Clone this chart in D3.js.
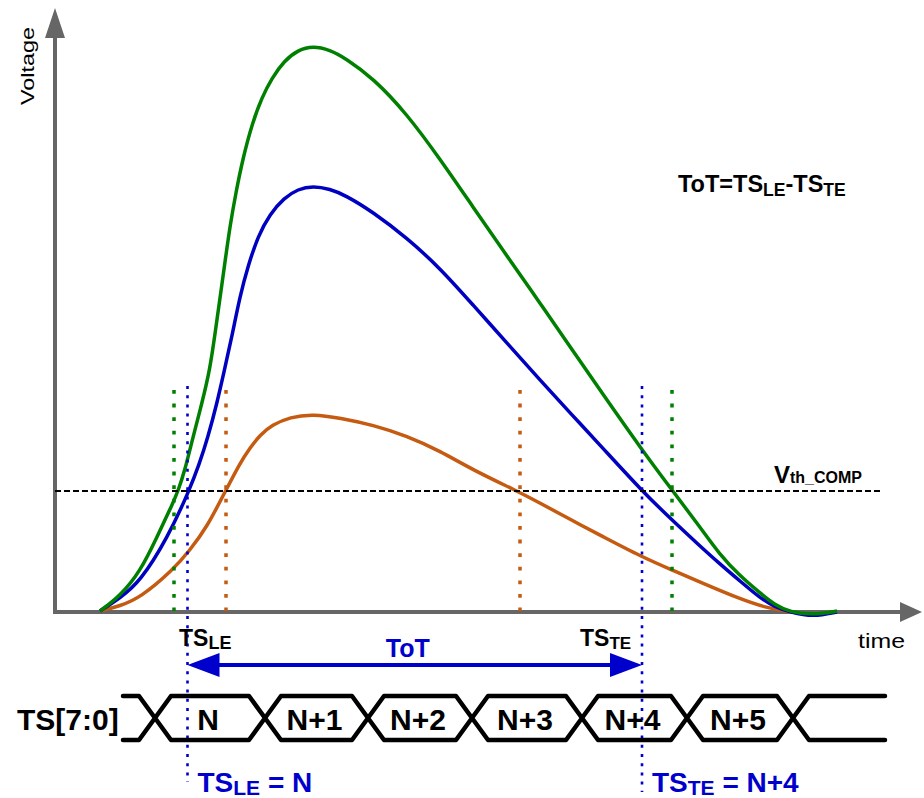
<!DOCTYPE html>
<html><head><meta charset="utf-8">
<script src="https://cdn.jsdelivr.net/npm/d3@7"></script>
<style>
body{margin:0;background:#fff}
svg{display:block}
text{font-family:"Liberation Sans",Arial,sans-serif}
</style>
</head><body>
<svg id="chart" width="924" height="798"></svg>
<script>
// ---- data (time in arbitrary units, voltage in arbitrary units) ----
const greenCurve = [[9,0],[13,3],[17,7.8],[20.4,14.8],[23.6,21.6],[24.6,24],[26,28.2],[27.6,34.8],[29.4,41.6],[31,48.4],[32,55.4],[33,62.6],[34,69.8],[35,77],[36.2,83.8],[37.6,90.6],[39.4,97.4],[41.4,102.8],[43.4,106.6],[45.8,110],[48.6,112.2],[51.6,113],[55,112.2],[58,110.6],[63.6,106.6],[70.4,99.4],[77,90.4],[83.6,80.8],[90.4,71],[97,61.6],[103.6,52],[109,44.2],[117.4,32.2],[123.4,24.2],[129,16.8],[133,11.2],[137,7],[141,3.6],[144,1.2],[147,-0.2],[151.6,-0.8],[156.4,0]];
const blueCurve = [[9,0],[13,2.6],[17,5.8],[22.6,14.8],[26.8,24],[28.8,29.2],[30.6,34.8],[32.4,41.6],[33.8,47.8],[35.4,55],[37,63],[38.6,69],[40.6,75],[43,79.4],[45.8,82.6],[48.6,84.4],[51.6,85],[55,84.4],[58,83.2],[63.6,79.8],[70.4,74.6],[77,68.6],[83.6,61.2],[90.4,53.6],[97,46.2],[103.6,39],[109,33.2],[117.4,24],[123.4,18.2],[129,13],[133,9.4],[137,6],[141,2.6],[144,0.8],[147,-0.2],[151.6,-1.2],[156.4,-0.2]];
const orangeCurve = [[9,0],[13,1],[17,2.6],[23.6,8.2],[27,12.2],[30.4,16.8],[34,23.8],[37,29.6],[39,32.6],[41,35.2],[43.4,37.2],[47,38.8],[51.6,39.4],[57,38.6],[63.6,37.2],[70.4,35],[77,32],[83.6,28.2],[92.4,24],[97,21.6],[103.6,18],[109,15.2],[117.4,10.8],[123.4,8.2],[129,5.8],[137,2.4],[142.4,0.6],[147,-0.2]];
const vth = 24;
const greenCross = [23.8, 123.4];
const blueCross = [26.5, 117.4];
const orangeCross = [34.2, 93];
const markerTop = 44.2;
const blueMarkerTop = 45;
const busEdges = [20, 42, 62.6, 83.4, 105.4, 126.4, 147.6];
const busStart = 13.6, busEnd = 166;
const busLabels = ["N", "N+1", "N+2", "N+3", "N+4", "N+5"];

// ---- colours ----
const cGreen = "#008000", cBlue = "#0000c0", cOrange = "#c55a11", cText = "#0000cc", cAxis = "#666666";

const svg = d3.select("#chart");
const x = d3.scaleLinear().domain([0, 173]).range([55, 920]);
const y = d3.scaleLinear().domain([0, 113]).range([611, 46]);

// ---- axes ----
const ax = svg.append("g");
ax.append("line").attr("x1", x(0)).attr("x2", x(0)).attr("y1", y(0) + 1).attr("y2", 36)
  .attr("stroke", cAxis).attr("stroke-width", 4);
ax.append("path").attr("d", `M${x(0)-10},38 L${x(0)},8 L${x(0)+10},38 Z`).attr("fill", cAxis);
ax.append("line").attr("x1", x(0) - 2).attr("x2", 902).attr("y1", y(0) + 1).attr("y2", y(0) + 1)
  .attr("stroke", cAxis).attr("stroke-width", 4);
ax.append("path").attr("d", `M900,${y(0)-9} L922,${y(0)+1} L900,${y(0)+11} Z`).attr("fill", cAxis);

svg.append("text").attr("transform", `translate(34,66) rotate(-90)`).attr("text-anchor", "middle")
  .attr("font-size", 19).attr("textLength", 78).attr("lengthAdjust", "spacingAndGlyphs").text("Voltage");
svg.append("text").attr("x", 858).attr("y", 648).attr("font-size", 21)
  .attr("textLength", 47).attr("lengthAdjust", "spacingAndGlyphs").text("time");

// ---- curves ----
const line = d3.line().x(d => x(d[0])).y(d => y(d[1])).curve(d3.curveBasis);
[[orangeCurve, cOrange], [blueCurve, cBlue], [greenCurve, cGreen]].forEach(([d, c]) => {
  svg.append("path").attr("d", line(d)).attr("fill", "none").attr("stroke", c).attr("stroke-width", 3.5);
});

// ---- threshold ----
svg.append("line").attr("x1", x(0)).attr("x2", 880).attr("y1", y(vth)).attr("y2", y(vth))
  .attr("stroke", "#000").attr("stroke-width", 2).attr("stroke-dasharray", "6,3");
svg.append("text").attr("x", 774).attr("y", 483).attr("font-weight", "bold")
  .call(t => { t.append("tspan").attr("font-size", 24).text("V");
               t.append("tspan").attr("font-size", 16).text("th_COMP"); });

// ---- crossing markers ----
[[greenCross, cGreen], [orangeCross, cOrange]].forEach(([arr, c]) => {
  arr.forEach(t => svg.append("line").attr("x1", x(t)).attr("x2", x(t)).attr("y1", y(markerTop)).attr("y2", y(0))
    .attr("stroke", c).attr("stroke-width", 3.5).attr("stroke-dasharray", "3.8,9.8"));
});
blueCross.forEach((t, i) => svg.append("line").attr("x1", x(t)).attr("x2", x(t)).attr("y1", y(blueMarkerTop)).attr("y2", i ? 792 : 782)
  .attr("stroke", cText).attr("stroke-width", 2.6).attr("stroke-dasharray", "3,6.2"));

// ---- TS labels near axis ----
function subLabel(px, py, main, sub, size, subSize, fill, rest) {
  const t = svg.append("text").attr("x", px).attr("y", py).attr("font-weight", "bold").attr("fill", fill);
  t.append("tspan").attr("font-size", size).text(main);
  t.append("tspan").attr("font-size", subSize).attr("dy", 3).text(sub);
  if (rest) t.append("tspan").attr("font-size", size).attr("dy", -3).text(rest);
  return t;
}
subLabel(x(blueCross[0]) - 8.5, 646, "TS", "LE", 23, 18, "#000");
subLabel(x(blueCross[1]) - 62, 646, "TS", "TE", 23, 17, "#000");

// formula
const f = svg.append("text").attr("x", 678).attr("y", 192).attr("font-weight", "bold");
f.append("tspan").attr("font-size", 23.5).text("ToT=TS");
f.append("tspan").attr("font-size", 17.5).attr("dy", 4).text("LE");
f.append("tspan").attr("font-size", 23.5).attr("dy", -4).text("-TS");
f.append("tspan").attr("font-size", 17.5).attr("dy", 4).text("TE");

// ---- ToT arrow ----
const ay = 665, xa = x(blueCross[0]), xb = x(blueCross[1]);
svg.append("line").attr("x1", xa + 20).attr("x2", xb - 20).attr("y1", ay).attr("y2", ay)
  .attr("stroke", cText).attr("stroke-width", 4);
svg.append("path").attr("d", `M${xa},${ay} L${xa+32},${ay-12} L${xa+32},${ay+12} Z`).attr("fill", cText);
svg.append("path").attr("d", `M${xb},${ay} L${xb-32},${ay-12} L${xb-32},${ay+12} Z`).attr("fill", cText);
svg.append("text").attr("x", (xa + xb) / 2 - 7).attr("y", 657).attr("text-anchor", "middle")
  .attr("font-weight", "bold").attr("font-size", 25).attr("fill", cText).text("ToT");

// ---- bus ----
const busTop = 696, busBot = 740, busMid = (busTop + busBot) / 2, hw = 16;
const bus = svg.append("g").attr("fill", "none").attr("stroke", "#000").attr("stroke-width", 4.5)
  .attr("stroke-linejoin", "round").attr("stroke-linecap", "round");
const e0 = x(busEdges[0]), eL = x(busEdges[busEdges.length - 1]);
bus.append("path").attr("d", `M${x(busStart)},${busTop} L${e0-hw},${busTop} L${e0},${busMid} L${e0-hw},${busBot} L${x(busStart)},${busBot}`);
for (let i = 0; i < busEdges.length - 1; i++) {
  const a = x(busEdges[i]), b = x(busEdges[i + 1]);
  bus.append("path").attr("d", `M${a},${busMid} L${a+hw},${busTop} L${b-hw},${busTop} L${b},${busMid} L${b-hw},${busBot} L${a+hw},${busBot} Z`);
  svg.append("text").attr("x", (a + b) / 2 - 2).attr("y", 730).attr("text-anchor", "middle")
    .attr("font-weight", "bold").attr("font-size", 30).text(busLabels[i]);
}
bus.append("path").attr("d", `M${x(busEnd)},${busTop} L${eL+hw},${busTop} L${eL},${busMid} L${eL+hw},${busBot} L${x(busEnd)},${busBot}`);
svg.append("text").attr("x", 17).attr("y", 730).attr("font-weight", "bold").attr("font-size", 30).text("TS[7:0]");

// ---- bottom blue labels ----
subLabel(x(blueCross[0]) + 10, 792, "TS", "LE", 28, 21, cText, " = N");
subLabel(x(blueCross[1]) + 10, 792, "TS", "TE", 28, 21, cText, " = N+4");
</script>
</body></html>
